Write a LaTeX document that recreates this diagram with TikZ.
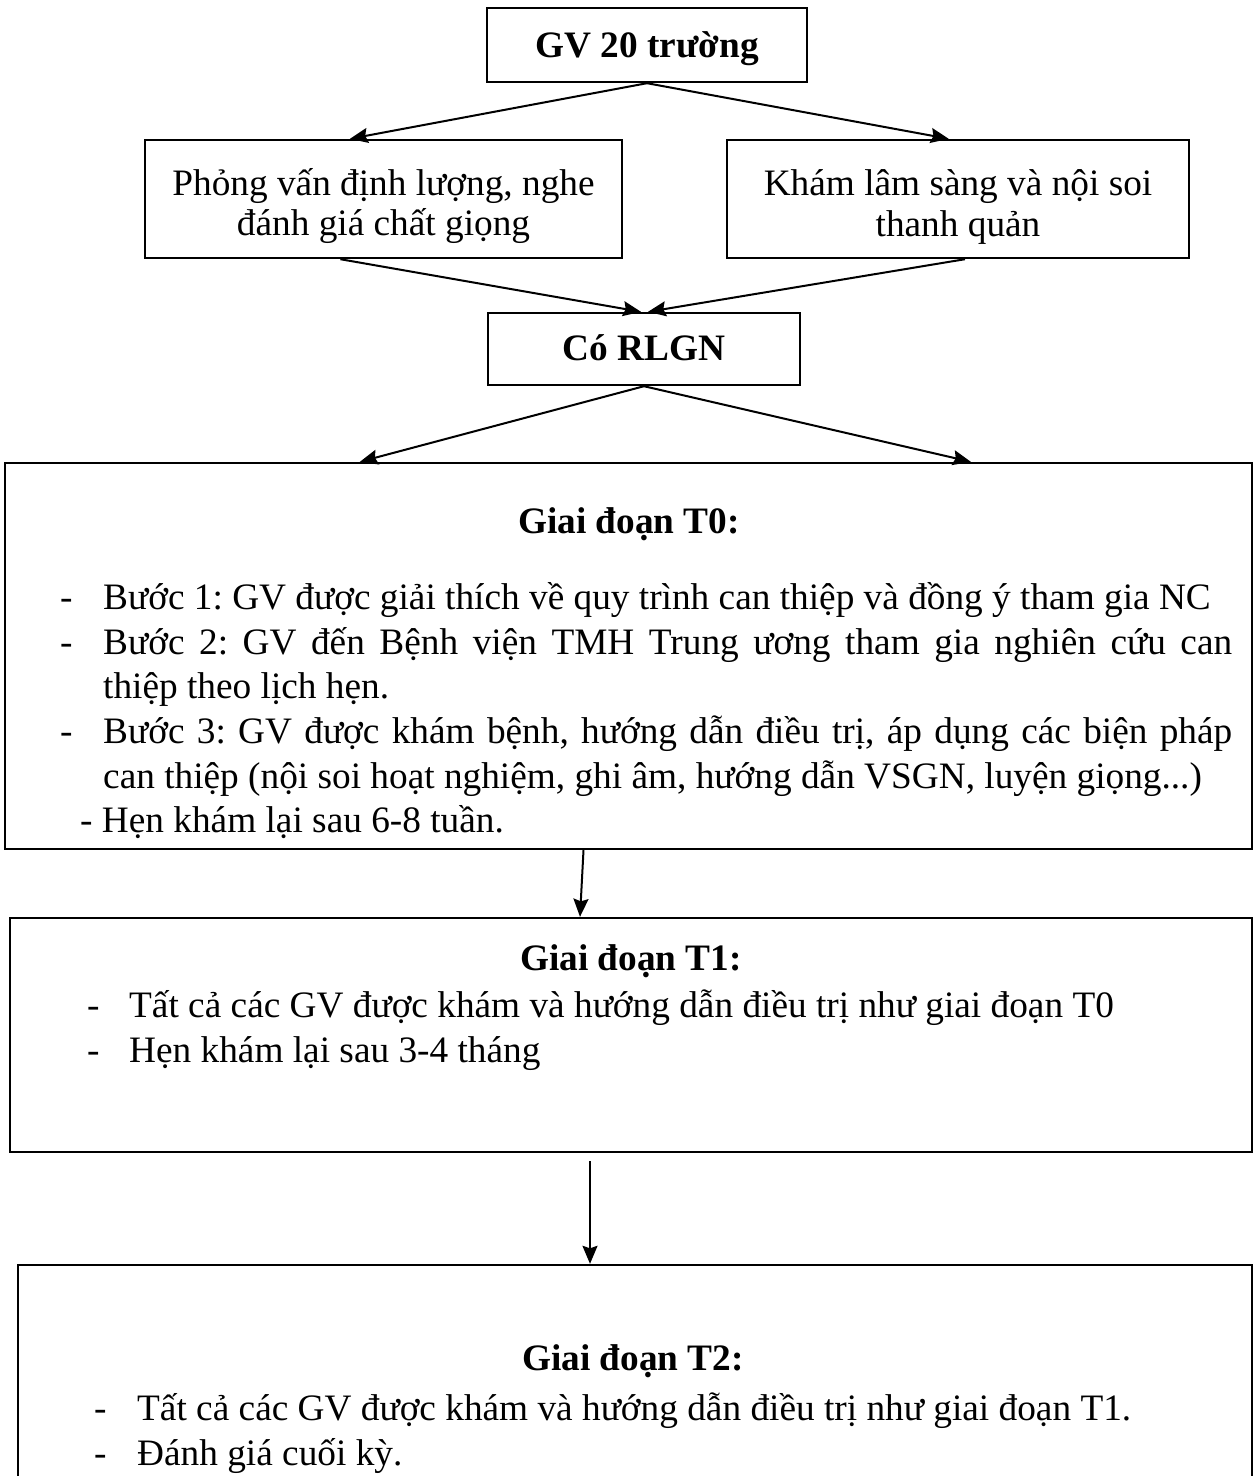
\documentclass[tikz,border=0pt]{standalone}
\usepackage{fontspec}
\setmainfont{Liberation Serif}
\frenchspacing
\usetikzlibrary{arrows.meta,calc}

\tikzset{
  box/.style={draw, line width=2.4pt, inner sep=0pt},
  txt/.style={inner sep=0pt, font=\fontsize{37.3}{41}\selectfont},
  btxt/.style={inner sep=0pt, font=\fontsize{37.3}{41}\selectfont\bfseries},
  line/.style={txt, anchor=base west},
  cline/.style={txt, anchor=base},
  arr/.style={line width=2pt, -{Stealth[length=18pt,width=15pt,inset=2.5pt]}},
}

\begin{document}
\begin{tikzpicture}[x=1pt,y=-1pt]
\useasboundingbox (0,0) rectangle (1257,1476);
\fill[white] (0,0) rectangle (1257,1476);

% --- boxes ---
\node[box, minimum width=320, minimum height=74] (top) at (647,45) {};
\node[box, minimum width=477, minimum height=118] (left) at (383.5,199) {};
\node[box, minimum width=462, minimum height=118] (right) at (958,199) {};
\node[box, minimum width=312, minimum height=72] (mid) at (644,349) {};
\node[box, minimum width=1247, minimum height=386] (t0) at (628.5,656) {};
\node[box, minimum width=1242, minimum height=234] (t1) at (631,1035) {};
\node[box, minimum width=1234, minimum height=240] (t2) at (635,1385) {};

% --- short box labels ---
\node[btxt, anchor=base] (toptxt) at (647,57) {GV 20 trường};
\node[cline] (lefttxt1) at (383.5,195) {Phỏng vấn định lượng, nghe};
\node[cline] (lefttxt2) at (383.5,235) {đánh giá chất giọng};
\node[cline] (righttxt1) at (958,195) {Khám lâm sàng và nội soi};
\node[cline] (righttxt2) at (958,236) {thanh quản};
\node[btxt, anchor=base] (midtxt) at (644,360) {Có RLGN};

% --- stage T0 ---
\node[btxt, anchor=base] (t0title) at (629,533) {Giai đoạn T0:};
\node[line] (t0d1) at (60,609) {-};
\node[line] (t0l1) at (103,609) {Bước 1: GV được giải thích về quy trình can thiệp và đồng ý tham gia NC};
\node[line] (t0d2) at (60,654) {-};
\node[line] (t0l2) at (103,654) {\makebox[1129pt][s]{Bước 2: GV đến Bệnh viện TMH Trung ương tham gia nghiên cứu can}};
\node[line] (t0l3) at (103,698) {thiệp theo lịch hẹn.};
\node[line] (t0d4) at (60,743) {-};
\node[line] (t0l4) at (103,743) {\makebox[1129pt][s]{Bước 3: GV được khám bệnh, hướng dẫn điều trị, áp dụng các biện pháp}};
\node[line] (t0l5) at (103,788) {can thiệp (nội soi hoạt nghiệm, ghi âm, hướng dẫn VSGN, luyện giọng...)};
\node[line] (t0l6) at (80,832) {- Hẹn khám lại sau 6-8 tuần.};

% --- stage T1 ---
\node[btxt, anchor=base] (t1title) at (631,970) {Giai đoạn T1:};
\node[line] (t1d1) at (87,1017) {-};
\node[line] (t1l1) at (129,1017) {Tất cả các GV được khám và hướng dẫn điều trị như giai đoạn T0};
\node[line] (t1d2) at (87,1062) {-};
\node[line] (t1l2) at (129,1062) {Hẹn khám lại sau 3-4 tháng};

% --- stage T2 ---
\node[btxt, anchor=base] (t2title) at (633,1370) {Giai đoạn T2:};
\node[line] (t2d1) at (94,1420) {-};
\node[line] (t2l1) at (137,1420) {Tất cả các GV được khám và hướng dẫn điều trị như giai đoạn T1.};
\node[line] (t2d2) at (94,1465) {-};
\node[line] (t2l2) at (137,1465) {Đánh giá cuối kỳ.};

% --- connectors ---
\draw[arr] (top.south) -- ($(left.north west)!0.43!(left.north east)$);
\draw[arr] (top.south) -- ($(right.north west)!0.48!(right.north east)$);
\draw[arr] ($(left.south west)!0.41!(left.south east)$) -- ($(mid.north)+(-3,0)$);
\draw[arr] ($(right.south west)!0.515!(right.south east)$) -- ($(mid.north)+(4,0)$);
\draw[arr] (mid.south) -- ($(t0.north west)!0.285!(t0.north east)$);
\draw[arr] (mid.south) -- ($(t0.north west)!0.774!(t0.north east)$);
\draw[arr] ($(t0.south)+(-45,0)$) -- ($(t1.north)+(-51,0)$);
\draw[arr] ($(t1.south)+(-41,8)$) -- ($(t2.north)+(-45,0)$);
\end{tikzpicture}
\end{document}
